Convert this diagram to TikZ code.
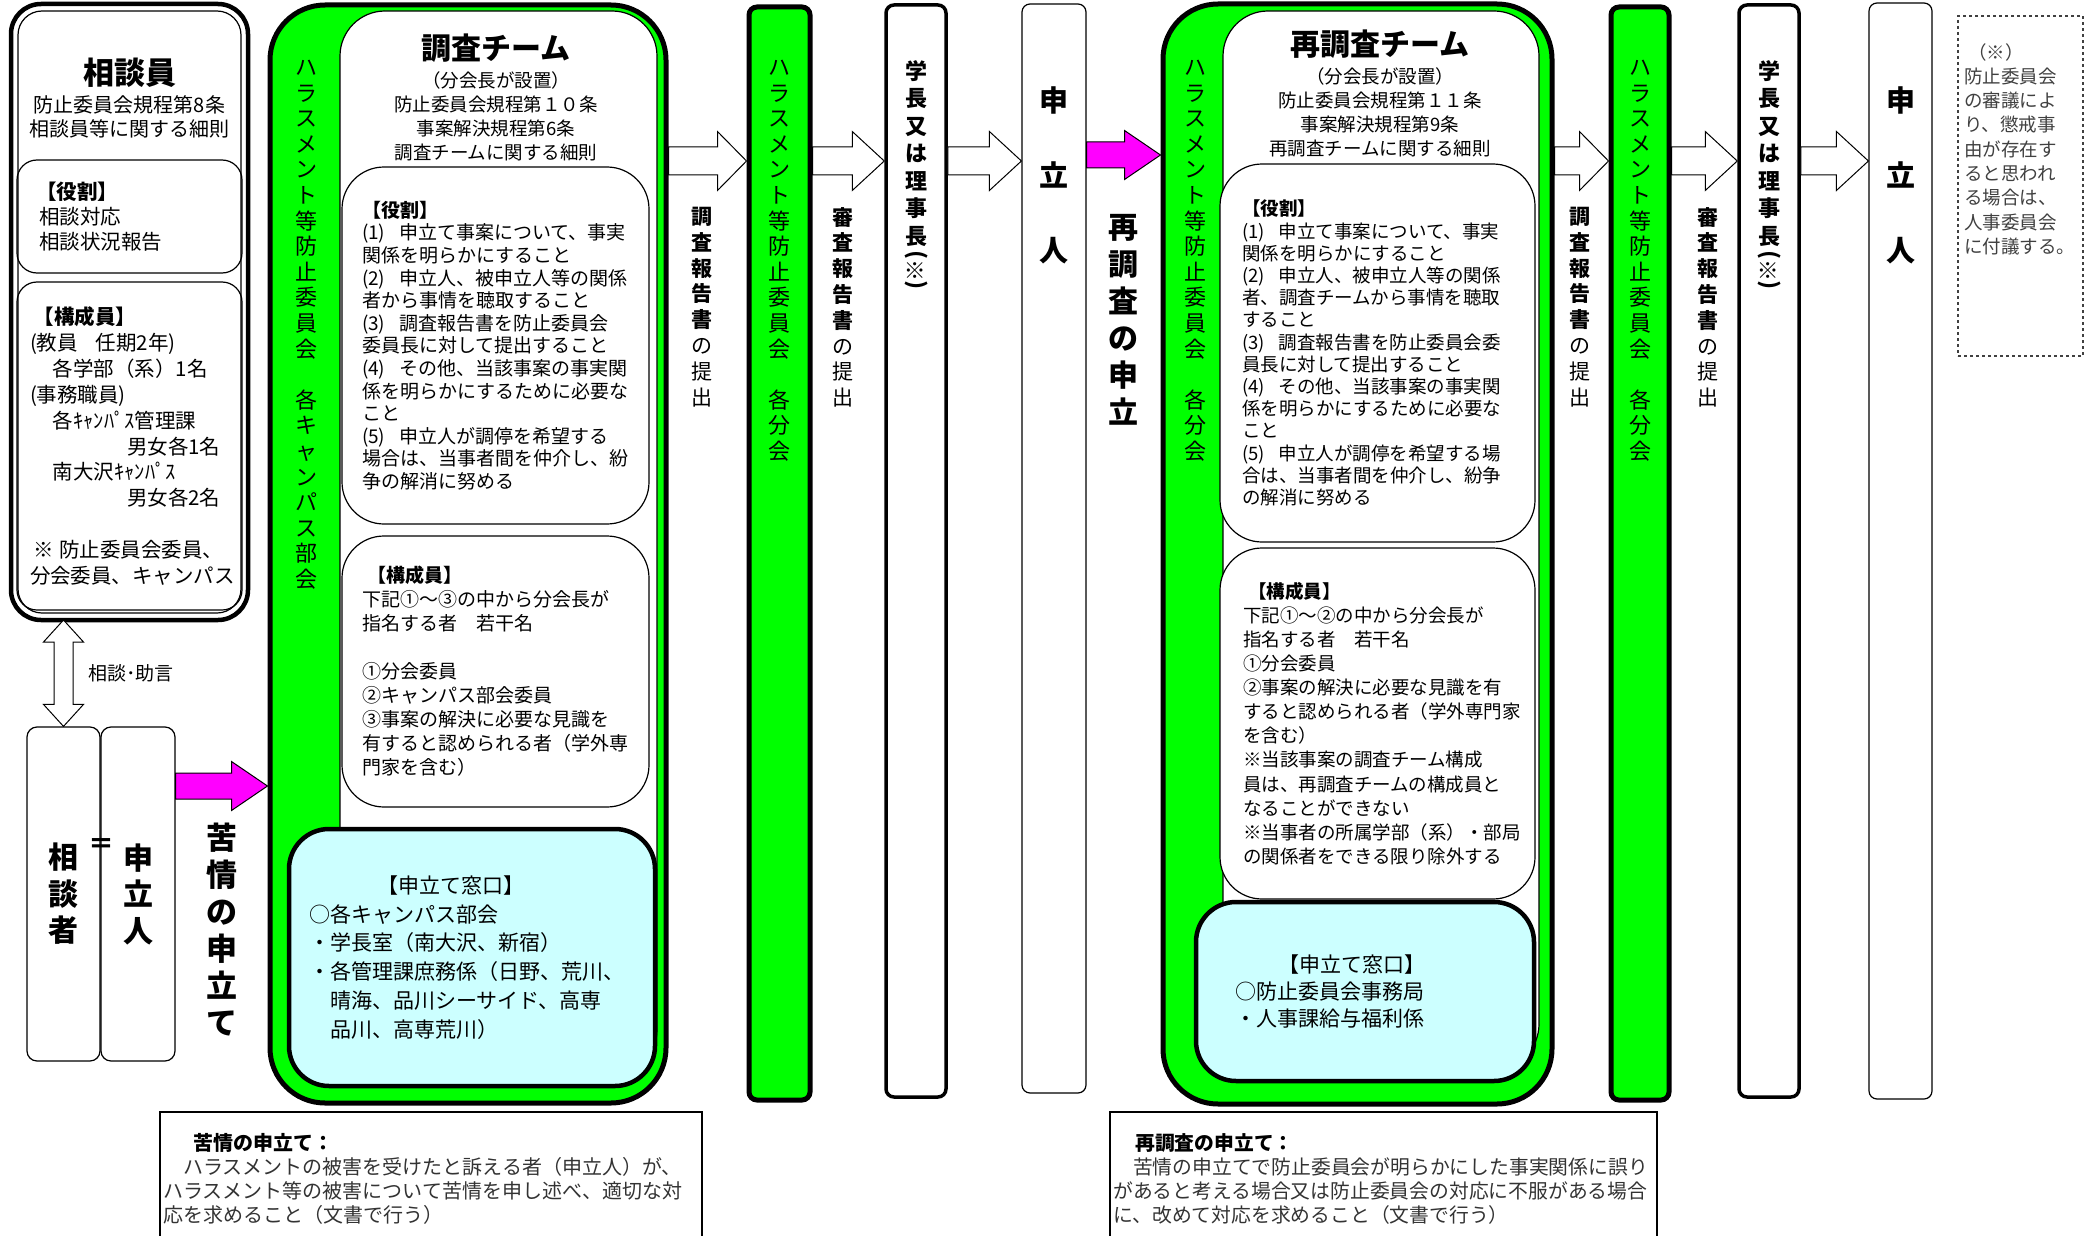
\documentclass[tikz,border=0pt]{standalone}
\usepackage{fontspec}
\setmainfont{Noto Sans CJK JP}
\usepackage{graphicx}
\usetikzlibrary{calc}

\definecolor{hgreen}{RGB}{0,255,0}
\definecolor{wcyan}{RGB}{204,255,255}
\definecolor{pmagenta}{RGB}{255,0,255}

\newcommand{\fsz}[2]{\fontsize{#1}{#2}\selectfont}
\newcommand{\blockarrow}[6]{%
  \draw[#1] ($(#2)+(0,-#4)$) -- ($(#3)+(-#6,-#4)$) -- ($(#3)+(-#6,-#5)$) -- (#3)
    -- ($(#3)+(-#6,#5)$) -- ($(#3)+(-#6,#4)$) -- ($(#2)+(0,#4)$) -- cycle;}

\tikzset{
  lbl/.style={inner sep=0pt, align=center},
  vtext/.style={inner sep=0pt, align=center, anchor=north},
  soudanbox/.style={draw, line width=4.5pt, rounded corners=30pt, outer sep=0pt},
  sbox/.style={draw, line width=1.2pt, rounded corners=20pt, align=left, inner ysep=0pt},
  outerbox/.style={draw, line width=5pt, fill=hgreen, rounded corners=55pt},
  teambox/.style={draw, line width=1.2pt, fill=white, rounded corners=45pt},
  infobox/.style={draw, line width=1.2pt, fill=white, rounded corners=42pt, align=left, inner ysep=0pt},
  windowbox/.style={draw, line width=4.5pt, fill=wcyan, rounded corners=40pt, align=left, inner ysep=0pt},
  gcol/.style={draw, line width=5pt, fill=hgreen, rounded corners=8pt},
  bcol/.style={draw, line width=3.5pt, fill=white, rounded corners=8pt},
  wcol/.style={draw, line width=1.2pt, fill=white, rounded corners=8pt},
  smallbox/.style={draw, line width=1.2pt, fill=white, rounded corners=10pt, align=center},
  notebox/.style={draw, line width=1.2pt},
  remarkbox/.style={draw=black!75, line width=1.2pt, dashed},
  whitearrow/.style={draw, line width=1pt, fill=white},
  pinkarrow/.style={draw, line width=1pt, fill=pmagenta},
}

\begin{document}
\begin{tikzpicture}[x=1pt, y=-1pt]
\useasboundingbox (0,0) rectangle (2089,1236);

\node[soudanbox, minimum width=237, minimum height=616] (soudanin) at (129.5,312) {};
\draw[line width=1.2pt, rounded corners=24pt] ($(soudanin.north west)+(7,7)$) rectangle ($(soudanin.south east)+(-7,-7)$);
\node[lbl, font=\fsz{31}{31}\bfseries] (sdtitle) at (129.5,73) {相談員};
\node[lbl, font=\fsz{20}{24}] (sdrule) at (129.5,117) {防止委員会規程第8条\\相談員等に関する細則};
\node[sbox, minimum width=225, minimum height=113, inner xsep=19pt, text width=187, font=\fsz{20.5}{25}] (sdrole) at (129.5,216.5)
  {\textbf{【役割】}\\\hspace*{3pt}相談対応\\\hspace*{3pt}相談状況報告};
\node[sbox, minimum width=225, minimum height=328, inner xsep=13pt, text width=199, font=\fsz{20.5}{25.9}] (sdmember) at (129.5,446)
  {\hspace*{4pt}\textbf{【構成員】}\\
   (教員\kern18pt 任期2年)\\
   \hspace*{23pt}各学部（系）1名\\
   (事務職員)\\
   \hspace*{23pt}各ｷｬﾝﾊﾟｽ管理課\\
   \hspace*{97pt}男女各1名\\
   \hspace*{23pt}南大沢ｷｬﾝﾊﾟｽ\\
   \hspace*{97pt}男女各2名\\[25.9pt]
   \hspace*{3pt}※\kern6pt 防止委員会委員、\\
   分会委員、キャンパス};

\node[smallbox, minimum width=73, minimum height=334, font=\fsz{30}{36.5}\bfseries] (consult) at (63.5,894) {相\\談\\者};
\node[smallbox, minimum width=74, minimum height=334, font=\fsz{30}{36.5}\bfseries] (appl) at (138,894) {申\\立\\人};
\node[lbl, font=\fsz{26}{26}\bfseries] (equal) at (101,846) {＝};

\coordinate (dtop) at (consult.north |- soudanin.south);
\draw[whitearrow] (dtop) -- ($(dtop)+(20,22)$) -- ($(dtop)+(9.5,22)$) -- ($(consult.north)+(9.5,-22)$)
  -- ($(consult.north)+(20,-22)$) -- (consult.north) -- ($(consult.north)+(-20,-22)$)
  -- ($(consult.north)+(-9.5,-22)$) -- ($(dtop)+(-9.5,22)$) -- ($(dtop)+(-20,22)$) -- cycle;
\node[lbl, anchor=west, font=\fsz{19}{19}] (advice) at (88,673) {相談･助言};

\node[outerbox, minimum width=396, minimum height=1098] (hc1) at (468,554) {};
\node[teambox, minimum width=317, minimum height=1064] (team1) at (498.5,543) {};
\node[vtext, font=\fsz{22}{25.6}] (hc1txt) at (306,60)
  {ハ\\ラ\\ス\\メ\\ン\\ト\\等\\防\\止\\委\\員\\会\\　\\各\\キ\\ャ\\ン\\パ\\ス\\部\\会};
\node[lbl, font=\fsz{30}{30}\bfseries] (team1ttl) at (496,48) {調査チーム};
\node[lbl, font=\fsz{18.5}{24}] (team1rule) at (496,116)
  {（分会長が設置）\\防止委員会規程第１０条\\事案解決規程第6条\\調査チームに関する細則};
\node[infobox, minimum width=307, minimum height=357, inner xsep=20pt, text width=267, font=\fsz{19}{22.6}] (role1) at (495.5,345.5)
  {\textbf{【役割】}\\
   (1)\kern14pt 申立て事案について、事実\\
   関係を明らかにすること\\
   (2)\kern14pt 申立人、被申立人等の関係\\
   者から事情を聴取すること\\
   (3)\kern14pt 調査報告書を防止委員会\\
   委員長に対して提出すること\\
   (4)\kern14pt その他、当該事案の事実関\\
   係を明らかにするために必要な\\
   こと\\
   (5)\kern14pt 申立人が調停を希望する\\
   場合は、当事者間を仲介し、紛\\
   争の解消に努める};
\node[infobox, minimum width=307, minimum height=271, inner xsep=20pt, text width=267, font=\fsz{19}{24}] (member1) at (495.5,671.5)
  {\hspace*{5pt}\textbf{【構成員】}\\
   下記①～③の中から分会長が\\
   指名する者　若干名\\[24pt]
   ①分会委員\\
   ②キャンパス部会委員\\
   ③事案の解決に必要な見識を\\
   有すると認められる者（学外専\\
   門家を含む）};
\node[windowbox, minimum width=366, minimum height=257, inner xsep=20pt, text width=326, font=\fsz{21}{28.8}] (window1) at (472,957.5)
  {\hspace*{68pt}【申立て窓口】\\
   ○各キャンパス部会\\
   ・学長室（南大沢、新宿）\\
   ・各管理課庶務係（日野、荒川、\\
   \hspace*{21pt}晴海、品川シーサイド、高専\\
   \hspace*{21pt}品川、高専荒川）};

\coordinate (lvlA) at (0,786);
\coordinate (lvlB) at (0,161);
\coordinate (lvlC) at (0,155);
\blockarrow{pinkarrow}{appl.east |- lvlA}{hc1.west |- lvlA}{13}{24.5}{36}
\node[vtext, font=\fsz{31}{37}\bfseries] (complaint) at (222,823) {苦\\情\\の\\申\\立\\て};

\node[gcol, minimum width=61, minimum height=1093] (committee1) at (779.5,553.5) {};
\node[vtext, font=\fsz{22}{25.6}] (cm1txt) at (779.5,60)
  {ハ\\ラ\\ス\\メ\\ン\\ト\\等\\防\\止\\委\\員\\会\\　\\各\\分\\会};
\node[bcol, minimum width=60, minimum height=1092] (pres1) at (916,551) {};
\node[vtext, font=\fsz{22}{27.5}\bfseries] (pres1txt) at (916,60)
  {学\\長\\又\\は\\理\\事\\長\\[3pt]\rotatebox{90}{(※)}};
\node[wcol, minimum width=64, minimum height=1089] (appl2) at (1054,548.5) {};
\node[vtext, font=\fsz{29}{75}\bfseries] (appl2txt) at (1054,87) {申\\立\\人};
\node[vtext, font=\fsz{21}{25.8}] (report1) at (702,207)
  {\textbf{調}\\\textbf{査}\\\textbf{報}\\\textbf{告}\\\textbf{書}\\の\\提\\出};
\node[vtext, font=\fsz{21}{25.8}] (review1) at (843,207)
  {\textbf{審}\\\textbf{査}\\\textbf{報}\\\textbf{告}\\\textbf{書}\\の\\提\\出};
\node[vtext, font=\fsz{30}{37}\bfseries] (reappeal) at (1123,214) {再\\調\\査\\の\\申\\立};

\node[outerbox, minimum width=389, minimum height=1100] (hc2) at (1357.5,554) {};
\node[teambox, minimum width=316, minimum height=1058] (team2) at (1381,540) {};
\node[vtext, font=\fsz{22}{25.6}] (hc2txt) at (1195,60)
  {ハ\\ラ\\ス\\メ\\ン\\ト\\等\\防\\止\\委\\員\\会\\　\\各\\分\\会};
\node[lbl, font=\fsz{30}{30}\bfseries] (team2ttl) at (1380,44) {再調査チーム};
\node[lbl, font=\fsz{18.5}{24}] (team2rule) at (1380,112)
  {（分会長が設置）\\防止委員会規程第１１条\\事案解決規程第9条\\再調査チームに関する細則};
\node[infobox, minimum width=315, minimum height=378, inner xsep=22pt, text width=271, font=\fsz{18.5}{22.2}] (role2) at (1377.5,353)
  {\textbf{【役割】}\\
   (1)\kern14pt 申立て事案について、事実\\
   関係を明らかにすること\\
   (2)\kern14pt 申立人、被申立人等の関係\\
   者、調査チームから事情を聴取\\
   すること\\
   (3)\kern14pt 調査報告書を防止委員会委\\
   員長に対して提出すること\\
   (4)\kern14pt その他、当該事案の事実関\\
   係を明らかにするために必要な\\
   こと\\
   (5)\kern14pt 申立人が調停を希望する場\\
   合は、当事者間を仲介し、紛争\\
   の解消に努める};
\node[infobox, minimum width=315, minimum height=351, inner xsep=23pt, text width=269, font=\fsz{18.5}{24.1}] (member2) at (1377.5,723.5)
  {\hspace*{5pt}\textbf{【構成員】}\\
   下記①～②の中から分会長が\\
   指名する者　若干名\\
   ①分会委員\\
   ②事案の解決に必要な見識を有\\
   すると認められる者（学外専門家\\
   を含む）\\
   ※当該事案の調査チーム構成\\
   員は、再調査チームの構成員と\\
   なることができない\\
   ※当事者の所属学部（系）・部局\\
   の関係者をできる限り除外する};
\node[windowbox, minimum width=338, minimum height=179, inner xsep=39pt, text width=260, font=\fsz{21}{27}] (window2) at (1365,991.5)
  {\hspace*{43pt}【申立て窓口】\\
   ○防止委員会事務局\\
   ・人事課給与福利係};

\node[gcol, minimum width=58, minimum height=1093] (committee2) at (1640,553.5) {};
\node[vtext, font=\fsz{22}{25.6}] (cm2txt) at (1640,60)
  {ハ\\ラ\\ス\\メ\\ン\\ト\\等\\防\\止\\委\\員\\会\\　\\各\\分\\会};
\node[bcol, minimum width=60, minimum height=1092] (pres2) at (1769,551) {};
\node[vtext, font=\fsz{22}{27.5}\bfseries] (pres2txt) at (1769,60)
  {学\\長\\又\\は\\理\\事\\長\\[3pt]\rotatebox{90}{(※)}};
\node[wcol, minimum width=63, minimum height=1096] (appl3) at (1900.5,551) {};
\node[vtext, font=\fsz{29}{75}\bfseries] (appl3txt) at (1901,87) {申\\立\\人};
\node[vtext, font=\fsz{21}{25.8}] (report2) at (1580,207)
  {\textbf{調}\\\textbf{査}\\\textbf{報}\\\textbf{告}\\\textbf{書}\\の\\提\\出};
\node[vtext, font=\fsz{21}{25.8}] (review2) at (1708,207)
  {\textbf{審}\\\textbf{査}\\\textbf{報}\\\textbf{告}\\\textbf{書}\\の\\提\\出};

\blockarrow{whitearrow}{hc1.east |- lvlB}{committee1.west |- lvlB}{14}{29.5}{29}
\blockarrow{whitearrow}{committee1.east |- lvlB}{pres1.west |- lvlB}{14}{29.5}{32}
\blockarrow{whitearrow}{pres1.east |- lvlB}{appl2.west |- lvlB}{14}{29.5}{32}
\blockarrow{pinkarrow}{appl2.east |- lvlC}{hc2.west |- lvlC}{13}{24.5}{36}
\blockarrow{whitearrow}{hc2.east |- lvlB}{committee2.west |- lvlB}{14}{29.5}{29}
\blockarrow{whitearrow}{committee2.east |- lvlB}{pres2.west |- lvlB}{14}{29.5}{32}
\blockarrow{whitearrow}{pres2.east |- lvlB}{appl3.west |- lvlB}{14}{29.5}{32}

\node[remarkbox, minimum width=125, minimum height=340] (remark) at (2020.5,186) {};
\node[lbl, anchor=north west, align=left, font=\fsz{18.5}{24.3}, text=black!75] (remarktxt) at (1964,43)
  {\hspace*{4pt}（※）\\防止委員会\\の審議によ\\り、懲戒事\\由が存在す\\ると思われ\\る場合は、\\人事委員会\\に付議する。};

\node[notebox, minimum width=542, minimum height=150] (note1) at (431,1187) {};
\node[lbl, anchor=north west, align=left, font=\fsz{20}{24}, text=black!80] (note1txt) at (163,1133)
  {\hspace*{30pt}\textcolor{black}{\textbf{苦情の申立て：}}\\
   　ハラスメントの被害を受けたと訴える者（申立人）が、\\
   ハラスメント等の被害について苦情を申し述べ、適切な対\\
   応を求めること（文書で行う）};
\node[notebox, minimum width=547, minimum height=150] (note2) at (1383.5,1187) {};
\node[lbl, anchor=north west, align=left, font=\fsz{19.8}{24}, text=black!80] (note2txt) at (1113,1133)
  {\hspace*{22pt}\textcolor{black}{\textbf{再調査の申立て：}}\\
   　苦情の申立てで防止委員会が明らかにした事実関係に誤り\\
   があると考える場合又は防止委員会の対応に不服がある場合\\
   に、改めて対応を求めること（文書で行う）};
\end{tikzpicture}
\end{document}
